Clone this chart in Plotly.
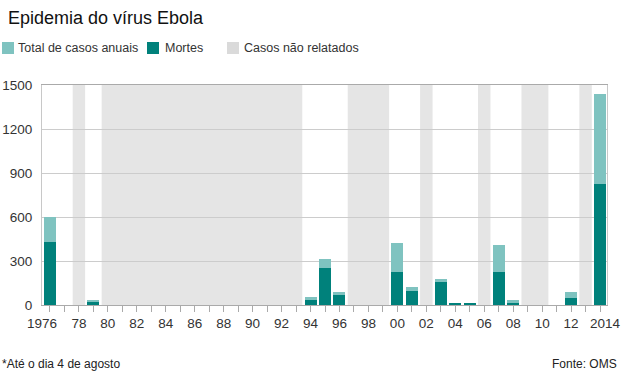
import plotly.graph_objects as go

# ---- data ----
years = [1976, 1979, 1994, 1995, 1996, 2000, 2001, 2003, 2004, 2005, 2007, 2008, 2012, 2014]
total_cases = [602, 34, 53, 315, 91, 425, 123, 178, 14, 12, 411, 34, 90, 1440]
deaths = [431, 21, 31, 254, 69, 226, 97, 158, 7, 10, 226, 16, 50, 826]
unreported = [(1978, 1978), (1980, 1993), (1997, 1999), (2002, 2002), (2006, 2006), (2009, 2010), (2013, 2013)]
tick_years = list(range(1976, 2015))
tick_labels = ["" if (y % 2 or y in (1976, 2014)) else f"{y % 100:02d}" for y in tick_years]
end_labels = [(1976, "1976"), (2014, "2014")]
y_ticks = [0, 300, 600, 900, 1200, 1500]

legend_items = ["Total de casos anuais", "Mortes", "Casos não relatados"]
title = "Epidemia do vírus Ebola"
note = "*Até o dia 4 de agosto"
source = "Fonte: OMS"

# ---- style ----
C_TOTAL = "#7fc3c0"
C_DEATH = "#00817b"
C_GREY = "#e5e5e5"
FONT = "Liberation Sans, Arial, sans-serif"
W, H = 625, 382
ML, MR, MT, MB = 42, 18, 85, 77
PW, PH = W - ML - MR, H - MT - MB
BAR_W = 0.83
PAD = 0.43


def px(x):
    return (x - ML) / PW


def py(y):
    return (H - MB - y) / PH


fig = go.Figure()
fig.add_trace(go.Bar(x=years, y=total_cases, width=BAR_W, marker_color=C_TOTAL,
                     marker_line_width=0, name=legend_items[0], showlegend=False))
fig.add_trace(go.Bar(x=years, y=deaths, width=BAR_W, marker_color=C_DEATH,
                     marker_line_width=0, name=legend_items[1], showlegend=False))

shapes = []
for a, b in unreported:
    shapes.append(dict(type="rect", xref="x", yref="y", x0=a - PAD, x1=b + PAD, y0=0, y1=1500,
                       fillcolor=C_GREY, line_width=0, layer="below"))

# legend swatches
sw = [(2, C_TOTAL, 16), (147, C_DEATH, 163), (227, "#dadada", 242)]
annotations = []
for (x0, col, tx), label in zip(sw, legend_items):
    shapes.append(dict(type="rect", xref="paper", yref="paper", x0=px(x0), x1=px(x0 + 12),
                       y0=py(54), y1=py(42), fillcolor=col, line_width=0))
    annotations.append(dict(x=px(tx), y=py(48), xref="paper", yref="paper", text=label,
                            showarrow=False, xanchor="left", yanchor="middle",
                            font=dict(family=FONT, size=12.5, color="#333")))

annotations.append(dict(x=px(6), y=py(18), xref="paper", yref="paper", text=title,
                        showarrow=False, xanchor="left", yanchor="middle",
                        font=dict(family=FONT, size=18, color="#111")))
annotations.append(dict(x=px(0), y=py(364), xref="paper", yref="paper", text=note,
                        showarrow=False, xanchor="left", yanchor="middle",
                        font=dict(family=FONT, size=12, color="#222")))
annotations.append(dict(x=px(619), y=py(364), xref="paper", yref="paper", text=source,
                        showarrow=False, xanchor="right", yanchor="middle",
                        font=dict(family=FONT, size=12, color="#222")))
for yr, lab in end_labels:
    annotations.append(dict(x=yr, y=py(323), xref="x", yref="paper", text=lab,
                            showarrow=False, xanchor="center", yanchor="middle",
                            xshift=-8 if yr == 1976 else 5,
                            font=dict(family=FONT, size=13.5, color="#333")))

fig.update_layout(
    width=W, height=H,
    margin=dict(l=ML, r=MR, t=MT, b=MB, pad=0, autoexpand=False),
    plot_bgcolor="white", paper_bgcolor="white",
    barmode="overlay", bargap=0,
    shapes=shapes, annotations=annotations,
    showlegend=False,
    xaxis=dict(range=[1975.45, 2014.48], tickmode="array", tickvals=tick_years, ticktext=tick_labels,
               ticks="outside", ticklen=6, tickcolor="#aaa", showgrid=False, zeroline=False,
               showline=True, linecolor="#aaa", linewidth=1, mirror=True, automargin=False,
               tickfont=dict(family=FONT, size=13.5, color="#333")),
    yaxis=dict(range=[0, 1500], tickmode="array", tickvals=y_ticks,
               ticks="outside", ticklen=6, tickcolor="rgba(0,0,0,0)",
               showgrid=True, gridcolor="#cccccc", gridwidth=1, zeroline=False,
               showline=True, linecolor="#c8c8c8", linewidth=1, mirror=True, automargin=False,
               tickfont=dict(family=FONT, size=13.5, color="#333")),
)

fig.write_html("out.html", config={"displayModeBar": False},
               post_script="document.body.style.margin='0';document.body.style.padding='0';")
